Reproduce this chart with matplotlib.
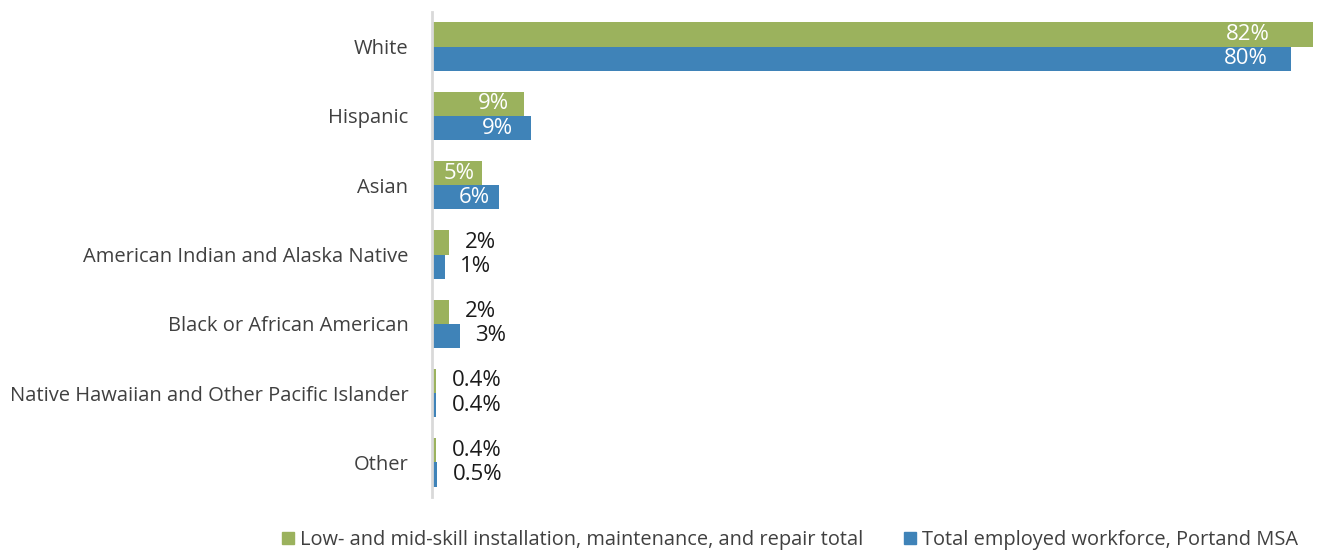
import matplotlib
matplotlib.use("Agg")
import matplotlib.pyplot as plt
from matplotlib.patches import Patch
import numpy as np

categories = [
    "White",
    "Hispanic",
    "Asian",
    "American Indian and Alaska Native",
    "Black or African American",
    "Native Hawaiian and Other Pacific Islander",
    "Other",
]
skill_share = [82, 8.6, 4.7, 1.6, 1.6, 0.4, 0.4]
workforce_share = [80, 9.2, 6.2, 1.2, 2.6, 0.4, 0.5]
series_names = [
    "Low- and mid-skill installation, maintenance, and repair total",
    "Total employed workforce, Portand MSA",
]

GREEN = "#9BB25D"
BLUE = "#3F83B8"
TEXT = "#404040"

plt.rcParams["font.family"] = ["Open Sans", "DejaVu Sans"]

fig = plt.figure(figsize=(13.18, 5.52), dpi=100)
ax = fig.add_axes([432 / 1318, 1 - 497 / 552, (1315 - 432) / 1318, 485 / 552])

y = np.arange(len(categories))
h = 0.35
ax.barh(y - h / 2, skill_share, height=h, color=GREEN)
ax.barh(y + h / 2, workforce_share, height=h, color=BLUE)


def fmt(v):
    return f"{v:.1f}%" if v < 1 else f"{v:.0f}%"


# inside labels sit left of the bar end; outside labels to the right
inside_pad = {0: (-31, -17), 1: (-11, -13), 2: (-6, -6)}
for series_idx, vals in enumerate([skill_share, workforce_share]):
    offs = -h / 2 if series_idx == 0 else h / 2
    for i, v in enumerate(vals):
        if v >= 4:
            dx = inside_pad[i][series_idx]
            ax.annotate(fmt(v), (v, i + offs), xytext=(dx, 0),
                        textcoords="offset points", ha="right", va="center",
                        color="white", fontsize=16)
        else:
            ax.annotate(fmt(v), (v, i + offs), xytext=(11, 0),
                        textcoords="offset points", ha="left", va="center",
                        color="#1a1a1a", fontsize=16)

ax.set_ylim(len(categories) - 0.5, -0.5)
ax.set_xlim(0, 82.2)
ax.set_yticks(y)
ax.set_yticklabels(categories, fontsize=14.5, color=TEXT)
ax.tick_params(axis="y", length=0, pad=17)
ax.set_xticks([])
for s in ["top", "right", "bottom"]:
    ax.spines[s].set_visible(False)
ax.spines["left"].set_color("#D9D9D9")
ax.spines["left"].set_linewidth(2)

handles = [Patch(color=GREEN), Patch(color=BLUE)]
fig.legend(handles, series_names, loc="center", bbox_to_anchor=(790 / 1318, 1 - 540 / 552),
           ncol=2, frameon=False, fontsize=14.4, handlelength=0.6, handleheight=0.6,
           handletextpad=0.3, columnspacing=2.0, labelcolor=TEXT)

fig.savefig("out.png", dpi=100)
